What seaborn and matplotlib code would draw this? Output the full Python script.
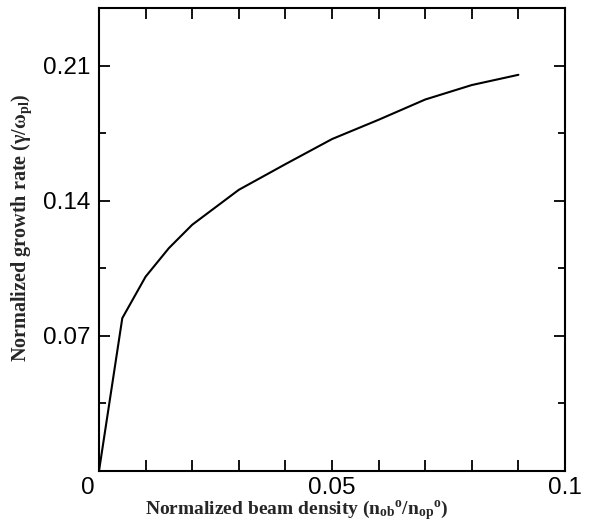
import matplotlib
matplotlib.use("Agg")
import matplotlib.pyplot as plt
import matplotlib.transforms as mtransforms
import numpy as np
import pandas as pd
import seaborn as sns

# beam density vs growth rate
beam_density = [0.0, 0.005, 0.01, 0.015, 0.02, 0.03, 0.04, 0.05, 0.06, 0.07, 0.08, 0.09]
growth_rate = [0.0, 0.0792, 0.1007, 0.1155, 0.1276, 0.1457, 0.159, 0.172, 0.182, 0.1925, 0.200, 0.2053]

x_major = [0.0, 0.05, 0.1]
x_major_labels = ["0", "0.05", "0.1"]
y_major = [0.07, 0.14, 0.21]
y_major_labels = ["0.07", "0.14", "0.21"]

sns.set_style("ticks")
plt.rcParams["font.family"] = ["Liberation Sans", "DejaVu Sans"]
plt.rcParams["mathtext.fontset"] = "custom"
plt.rcParams["mathtext.rm"] = "Liberation Serif:bold"
plt.rcParams["mathtext.bf"] = "Liberation Serif:bold"
plt.rcParams["mathtext.it"] = "Liberation Serif:bold"

df = pd.DataFrame({"density": beam_density, "rate": growth_rate})

fig = plt.figure(figsize=(5.91, 5.23), dpi=100)
ax = fig.add_axes([0.1675, 0.0994, 0.7885, 0.8856])
sns.lineplot(data=df, x="density", y="rate", color="black", linewidth=1.5, ax=ax)

ax.set_xlim(0, 0.1)
ax.set_ylim(0, 0.24)
ax.set_xticks(x_major)
ax.set_xticklabels(x_major_labels)
ax.set_xticks(np.arange(0.01, 0.1, 0.01), minor=True)
ax.set_yticks(y_major)
ax.set_yticklabels(y_major_labels)
ax.set_yticks([0.035, 0.105, 0.175], minor=True)

for s in ax.spines.values():
    s.set_visible(True)
    s.set_linewidth(1.5)
    s.set_color("black")

ax.tick_params(which="both", direction="in", top=True, right=True, width=1.3, colors="black")
ax.tick_params(which="major", length=8, labelsize=17.5, pad=6)
ax.tick_params(axis="x", which="minor", length=8)
ax.tick_params(axis="y", which="minor", length=5)
ax.tick_params(axis="x", which="major", pad=4)

# shift the "0" a bit left, like in the original
lab0 = ax.get_xticklabels()[0]
lab0.set_transform(lab0.get_transform() + mtransforms.ScaledTranslation(-0.11, 0, fig.dpi_scale_trans))

ax.set_xlabel(r"Normalized beam density (n$_{\mathbf{ob}}$$^{\mathbf{o}}$/n$_{\mathbf{op}}$$^{\mathbf{o}}$)",
              fontsize=14, fontfamily="Liberation Serif", fontweight="bold")
ax.set_ylabel(r"Normalized growth rate ($\gamma$/$\omega_{\mathbf{pl}}$)",
              fontsize=14.5, fontfamily="Liberation Serif", fontweight="bold")
ax.xaxis.set_label_coords(0.425, -0.058)
ax.yaxis.set_label_coords(-0.14, 0.525)

fig.savefig("out.png", dpi=100)
